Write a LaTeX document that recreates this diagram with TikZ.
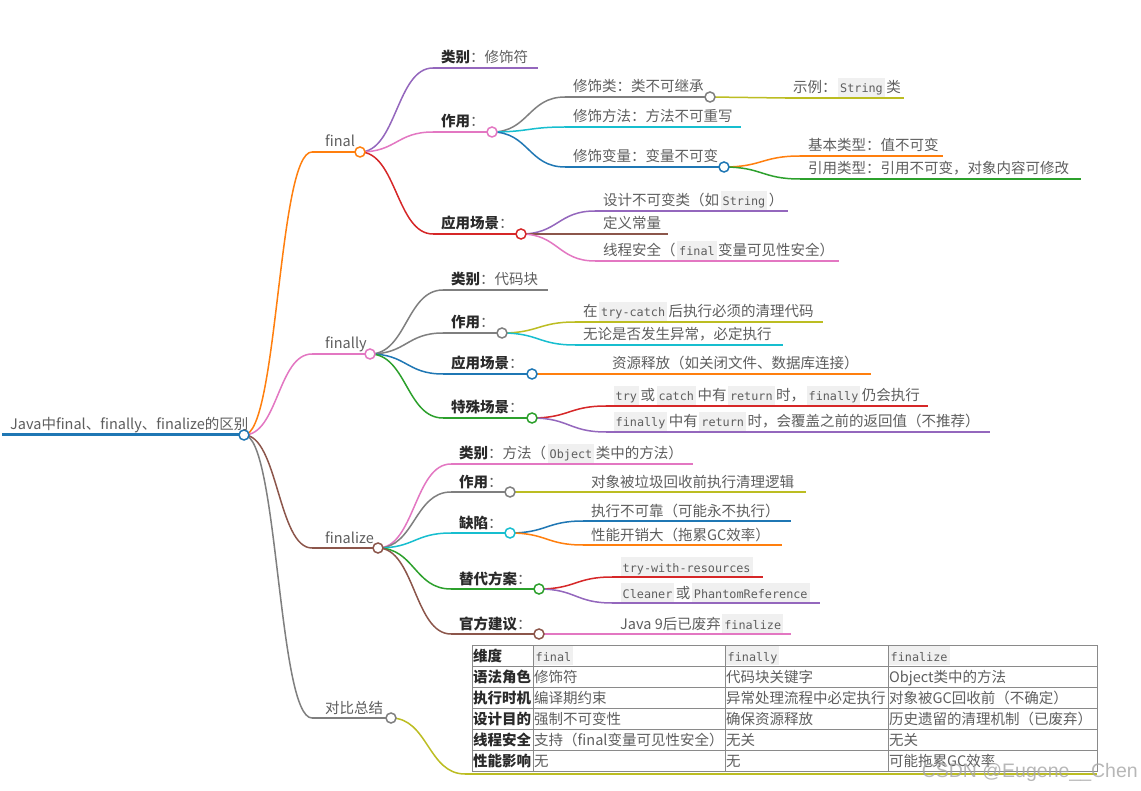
\documentclass[tikz,border=0pt]{standalone}
\usepackage{fontspec}
\setmainfont{Noto Sans CJK SC}
\newfontfamily\codefont{DejaVu Sans Mono}
\newfontfamily\wmfont{Liberation Sans}
\usetikzlibrary{calc}
\pgfdeclarelayer{bgzero}
\pgfdeclarelayer{background}
\pgfsetlayers{bgzero,background,main}
\definecolor{cblue}{HTML}{1F77B4}
\definecolor{corange}{HTML}{FF7F0E}
\definecolor{cgreen}{HTML}{2CA02C}
\definecolor{cred}{HTML}{D62728}
\definecolor{cpurple}{HTML}{9467BD}
\definecolor{cbrown}{HTML}{8C564B}
\definecolor{cpink}{HTML}{E377C2}
\definecolor{cgrey}{HTML}{7F7F7F}
\definecolor{colive}{HTML}{BCBD22}
\definecolor{ccyan}{HTML}{17BECF}
\definecolor{txt}{HTML}{5E5E5E}
\definecolor{txtb}{HTML}{2A2A2A}
\definecolor{codebg}{HTML}{F0F0F0}
\definecolor{tblc}{HTML}{8A8A8A}
\newcommand\fs{\fontsize{14.5}{17}\selectfont}
\newcommand\cd[1]{{\setlength\fboxsep{0pt}\hspace{1.5pt}\colorbox{codebg}{\hspace{2pt}\codefont\fontsize{11.8}{14}\selectfont\rule[-4pt]{0pt}{19pt}#1\hspace{2pt}}\hspace{1.5pt}}}
\newcommand\bl[1]{\textbf{\color{txtb}#1}}
\newcommand\lnk[3]{\draw[linkline,#1] let \p1=(#2), \p2=(#3) in (\p1) .. controls ({(\x1+\x2)/2},\y1) and ({(\x1+\x2)/2},\y2) .. (\p2);}
\tikzset{
 lbl/.style={anchor=base west, inner sep=0pt, text=txt, font=\fs},
 knob/.style={circle, draw=#1, fill=white, line width=1.5pt, minimum size=10pt, inner sep=0pt},
 uline/.style={line width=1.5pt, draw=#1},
 linkline/.style={line width=1.5pt},
 tline/.style={draw=tblc, line width=0.8pt},
}
\begin{document}
\begin{tikzpicture}[x=1pt,y=-1pt]
\useasboundingbox (0,0) rectangle (1141,791);
\begin{pgfonlayer}{bgzero}\fill[white] (0,0) rectangle (1141,791);\end{pgfonlayer}

% root
\coordinate (r-s) at (2,435);
\node[knob=cblue] (r) at (244,435) {};
\node[lbl] (r-t) at (10,430) {Java中final、finally、finalize的区别};

% final
\coordinate (f-s) at (312,152);
\node[knob=corange] (f) at (360,152) {};
\node[lbl] (f-t) at (325,147) {final};
\coordinate (f1-s) at (433,68); \coordinate (f1-e) at (538,68);
\node[lbl] (f1-t) at (441,63) {\bl{类别}：修饰符};
\coordinate (f2-s) at (433,132); \node[knob=cpink] (f2) at (492,132) {};
\node[lbl] (f2-t) at (441,127) {\bl{作用}：};
\coordinate (f3-s) at (433,234); \node[knob=cred] (f3) at (521,234) {};
\node[lbl] (f3-t) at (441,229) {\bl{应用场景}：};
\coordinate (f21-s) at (565,97); \node[knob=cgrey] (f21) at (710,97) {};
\node[lbl] (f21-t) at (573,92) {修饰类：类不可继承};
\coordinate (f211-s) at (785,98); \coordinate (f211-e) at (904,98);
\node[lbl] (f211-t) at (793,93) {示例：\cd{String}类};
\coordinate (f22-s) at (565,127); \coordinate (f22-e) at (741,127);
\node[lbl] (f22-t) at (573,122) {修饰方法：方法不可重写};
\coordinate (f23-s) at (565,167); \node[knob=cblue] (f23) at (724,167) {};
\node[lbl] (f23-t) at (573,162) {修饰变量：变量不可变};
\coordinate (f231-s) at (800,156); \coordinate (f231-e) at (943,156);
\node[lbl] (f231-t) at (808,151) {基本类型：值不可变};
\coordinate (f232-s) at (800,179); \coordinate (f232-e) at (1081,179);
\node[lbl] (f232-t) at (808,174) {引用类型：引用不可变，对象内容可修改};
\coordinate (f31-s) at (595,211); \coordinate (f31-e) at (788,211);
\node[lbl] (f31-t) at (603,206) {设计不可变类（如\cd{String}）};
\coordinate (f32-s) at (595,234); \coordinate (f32-e) at (668,234);
\node[lbl] (f32-t) at (603,229) {定义常量};
\coordinate (f33-s) at (595,261); \coordinate (f33-e) at (839,261);
\node[lbl] (f33-t) at (603,256) {线程安全（\cd{final}变量可见性安全）};

% finally
\coordinate (g-s) at (312,354);
\node[knob=cpink] (g) at (370,354) {};
\node[lbl] (g-t) at (325,349) {finally};
\coordinate (g1-s) at (443,290); \coordinate (g1-e) at (548,290);
\node[lbl] (g1-t) at (451,285) {\bl{类别}：代码块};
\coordinate (g2-s) at (443,333); \node[knob=cgrey] (g2) at (502,333) {};
\node[lbl] (g2-t) at (451,328) {\bl{作用}：};
\coordinate (g3-s) at (443,374); \node[knob=cblue] (g3) at (532,374) {};
\node[lbl] (g3-t) at (451,369) {\bl{应用场景}：};
\coordinate (g4-s) at (443,418); \node[knob=cgreen] (g4) at (532,418) {};
\node[lbl] (g4-t) at (451,413) {\bl{特殊场景}：};
\coordinate (g21-s) at (575,322); \coordinate (g21-e) at (823,322);
\node[lbl] (g21-t) at (583,317) {在\cd{try-catch}后执行必须的清理代码};
\coordinate (g22-s) at (575,345); \coordinate (g22-e) at (783,345);
\node[lbl] (g22-t) at (583,340) {无论是否发生异常，必定执行};
\coordinate (g31-s) at (604,374); \coordinate (g31-e) at (871,374);
\node[lbl] (g31-t) at (612,369) {资源释放（如关闭文件、数据库连接）};
\coordinate (g41-s) at (606,406); \coordinate (g41-e) at (928,406);
\node[lbl] (g41-t) at (612,401) {\cd{try}或\cd{catch}中有\cd{return}时，\cd{finally}仍会执行};
\coordinate (g42-s) at (606,432); \coordinate (g42-e) at (990,432);
\node[lbl] (g42-t) at (612,427) {\cd{finally}中有\cd{return}时，会覆盖之前的返回值（不推荐）};

% finalize
\coordinate (h-s) at (312,548);
\node[knob=cbrown] (h) at (378,548) {};
\node[lbl] (h-t) at (325,543) {finalize};
\coordinate (h1-s) at (451,464); \coordinate (h1-e) at (693,464);
\node[lbl] (h1-t) at (459,459) {\bl{类别}：方法（\cd{Object}类中的方法）};
\coordinate (h2-s) at (451,492); \node[knob=cgrey] (h2) at (510,492) {};
\node[lbl] (h2-t) at (459,487) {\bl{作用}：};
\coordinate (h3-s) at (451,533); \node[knob=ccyan] (h3) at (510,533) {};
\node[lbl] (h3-t) at (459,528) {\bl{缺陷}：};
\coordinate (h4-s) at (451,589); \node[knob=cgreen] (h4) at (539,589) {};
\node[lbl] (h4-t) at (459,584) {\bl{替代方案}：};
\coordinate (h5-s) at (451,634); \node[knob=cbrown] (h5) at (539,634) {};
\node[lbl] (h5-t) at (459,629) {\bl{官方建议}：};
\coordinate (h21-s) at (583,492); \coordinate (h21-e) at (806,492);
\node[lbl] (h21-t) at (591,487) {对象被垃圾回收前执行清理逻辑};
\coordinate (h31-s) at (583,521); \coordinate (h31-e) at (791,521);
\node[lbl] (h31-t) at (591,516) {执行不可靠（可能永不执行）};
\coordinate (h32-s) at (583,545); \coordinate (h32-e) at (782,545);
\node[lbl] (h32-t) at (591,540) {性能开销大（拖累GC效率）};
\coordinate (h41-s) at (612,577); \coordinate (h41-e) at (763,577);
\node[lbl] (h41-t) at (619,572) {\cd{try-with-resources}};
\coordinate (h42-s) at (612,603); \coordinate (h42-e) at (820,603);
\node[lbl] (h42-t) at (619,598) {\cd{Cleaner}或\cd{PhantomReference}};
\coordinate (h51-s) at (612,634); \coordinate (h51-e) at (791,634);
\node[lbl] (h51-t) at (620,629) {Java 9后已废弃\cd{finalize}};

% summary
\coordinate (k-s) at (312,718);
\node[knob=cgrey] (k) at (391,718) {};
\node[lbl] (k-t) at (325,713) {对比总结};
\coordinate (k1-s) at (465,774); \coordinate (k1-e) at (1097,774);

% table
\node[draw=tblc, line width=0.8pt, fill=white, minimum width=625pt, minimum height=126pt, inner sep=0pt, anchor=north west] (tbl) at (472,645) {};
\foreach \yy in {666,687,708,729,750} \draw[tline] (472,\yy) -- (1097,\yy);
\foreach \xx in {533,725,888} \draw[tline] (\xx,645) -- (\xx,771);
\node[lbl] (c00) at (473,661) {\bl{维度}};
\node[lbl] (c01) at (532,661) {\cd{final}};
\node[lbl] (c02) at (724,661) {\cd{finally}};
\node[lbl] (c03) at (887,661) {\cd{finalize}};
\node[lbl] (c10) at (473,682) {\bl{语法角色}};
\node[lbl] (c11) at (534,682) {修饰符};
\node[lbl] (c12) at (726,682) {代码块关键字};
\node[lbl] (c13) at (889,682) {Object类中的方法};
\node[lbl] (c20) at (473,703) {\bl{执行时机}};
\node[lbl] (c21) at (534,703) {编译期约束};
\node[lbl] (c22) at (726,703) {异常处理流程中必定执行};
\node[lbl] (c23) at (889,703) {对象被GC回收前（不确定）};
\node[lbl] (c30) at (473,724) {\bl{设计目的}};
\node[lbl] (c31) at (534,724) {强制不可变性};
\node[lbl] (c32) at (726,724) {确保资源释放};
\node[lbl] (c33) at (889,724) {历史遗留的清理机制（已废弃）};
\node[lbl] (c40) at (473,745) {\bl{线程安全}};
\node[lbl] (c41) at (534,745) {支持（final变量可见性安全）};
\node[lbl] (c42) at (726,745) {无关};
\node[lbl] (c43) at (889,745) {无关};
\node[lbl] (c50) at (473,766) {\bl{性能影响}};
\node[lbl] (c51) at (534,766) {无};
\node[lbl] (c52) at (726,766) {无};
\node[lbl] (c53) at (889,766) {可能拖累GC效率};

% watermark
\node[anchor=base east, inner sep=0pt, text=black!35, opacity=0.8, font=\wmfont\fontsize{19.5}{22}\selectfont] (wm) at (1138,777) {CSDN @Eugene\_\_Chen};

\begin{pgfonlayer}{background}
\draw[uline=cblue, line width=3pt] (r-s) -- (r.center);
\draw[uline=corange] (f-s) -- (f.center);
\draw[uline=cpink] (g-s) -- (g.center);
\draw[uline=cbrown] (h-s) -- (h.center);
\draw[uline=cgrey] (k-s) -- (k.center);
\draw[uline=cpurple] (f1-s) -- (f1-e);
\draw[uline=cpink] (f2-s) -- (f2.center);
\draw[uline=cred] (f3-s) -- (f3.center);
\draw[uline=cgrey] (f21-s) -- (f21.center);
\draw[uline=colive] (f211-s) -- (f211-e);
\draw[uline=ccyan] (f22-s) -- (f22-e);
\draw[uline=cblue] (f23-s) -- (f23.center);
\draw[uline=corange] (f231-s) -- (f231-e);
\draw[uline=cgreen] (f232-s) -- (f232-e);
\draw[uline=cpurple] (f31-s) -- (f31-e);
\draw[uline=cbrown] (f32-s) -- (f32-e);
\draw[uline=cpink] (f33-s) -- (f33-e);
\draw[uline=cgrey] (g1-s) -- (g1-e);
\draw[uline=cgrey] (g2-s) -- (g2.center);
\draw[uline=cblue] (g3-s) -- (g3.center);
\draw[uline=cgreen] (g4-s) -- (g4.center);
\draw[uline=colive] (g21-s) -- (g21-e);
\draw[uline=ccyan] (g22-s) -- (g22-e);
\draw[uline=corange] (g31-s) -- (g31-e);
\draw[uline=cred] (g41-s) -- (g41-e);
\draw[uline=cpurple] (g42-s) -- (g42-e);
\draw[uline=cpink] (h1-s) -- (h1-e);
\draw[uline=cgrey] (h2-s) -- (h2.center);
\draw[uline=ccyan] (h3-s) -- (h3.center);
\draw[uline=cgreen] (h4-s) -- (h4.center);
\draw[uline=cbrown] (h5-s) -- (h5.center);
\draw[uline=colive] (h21-s) -- (h21-e);
\draw[uline=cblue] (h31-s) -- (h31-e);
\draw[uline=corange] (h32-s) -- (h32-e);
\draw[uline=cred] (h41-s) -- (h41-e);
\draw[uline=cpurple] (h42-s) -- (h42-e);
\draw[uline=cpink] (h51-s) -- (h51-e);
\draw[uline=colive] (k1-s) -- (k1-e);
\lnk{corange}{r}{f-s}
\lnk{cpink}{r}{g-s}
\lnk{cbrown}{r}{h-s}
\lnk{cgrey}{r}{k-s}
\lnk{cpurple}{f}{f1-s}
\lnk{cpink}{f}{f2-s}
\lnk{cred}{f}{f3-s}
\lnk{cgrey}{f2}{f21-s}
\lnk{ccyan}{f2}{f22-s}
\lnk{cblue}{f2}{f23-s}
\lnk{colive}{f21}{f211-s}
\lnk{corange}{f23}{f231-s}
\lnk{cgreen}{f23}{f232-s}
\lnk{cpurple}{f3}{f31-s}
\lnk{cbrown}{f3}{f32-s}
\lnk{cpink}{f3}{f33-s}
\lnk{cgrey}{g}{g1-s}
\lnk{cgrey}{g}{g2-s}
\lnk{cblue}{g}{g3-s}
\lnk{cgreen}{g}{g4-s}
\lnk{colive}{g2}{g21-s}
\lnk{ccyan}{g2}{g22-s}
\lnk{corange}{g3}{g31-s}
\lnk{cred}{g4}{g41-s}
\lnk{cpurple}{g4}{g42-s}
\lnk{cpink}{h}{h1-s}
\lnk{cgrey}{h}{h2-s}
\lnk{ccyan}{h}{h3-s}
\lnk{cgreen}{h}{h4-s}
\lnk{cbrown}{h}{h5-s}
\lnk{colive}{h2}{h21-s}
\lnk{cblue}{h3}{h31-s}
\lnk{corange}{h3}{h32-s}
\lnk{cred}{h4}{h41-s}
\lnk{cpurple}{h4}{h42-s}
\lnk{cpink}{h5}{h51-s}
\lnk{colive}{k}{k1-s}
\end{pgfonlayer}
\end{tikzpicture}
\end{document}
